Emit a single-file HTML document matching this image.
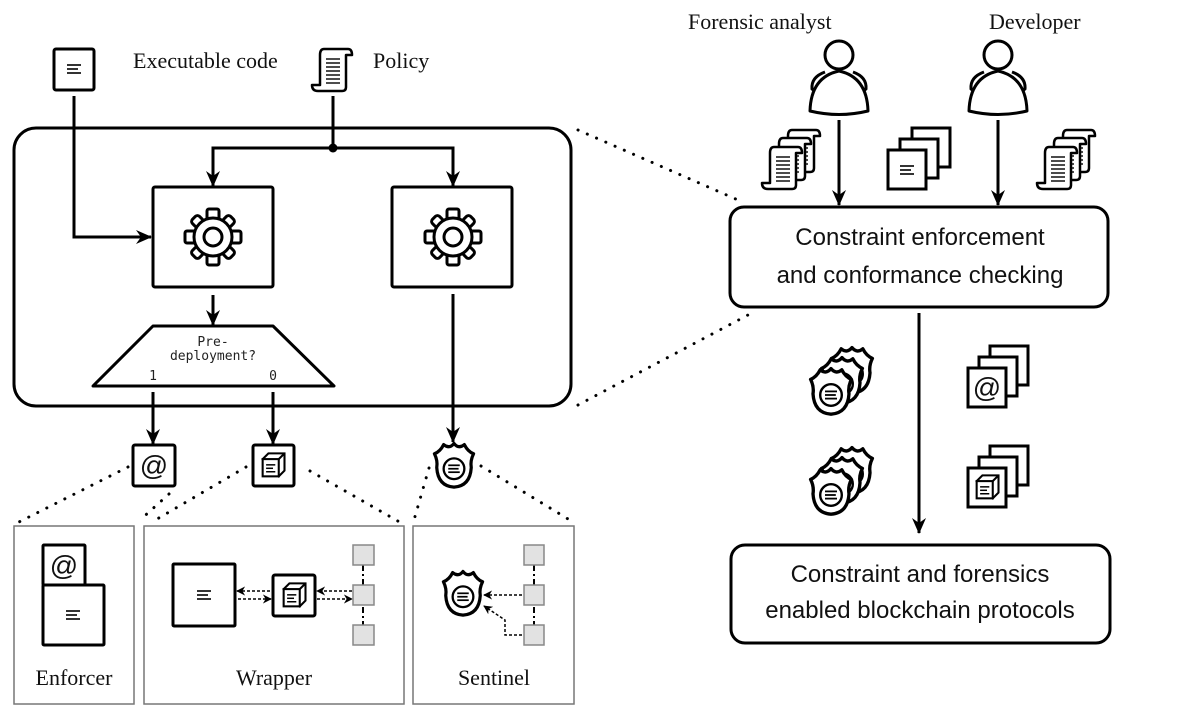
<!DOCTYPE html>
<html><head><meta charset="utf-8"><style>
html,body{margin:0;padding:0;background:#fff;}
svg{display:block}
.serif{font-family:"Liberation Serif",serif;fill:#111}
.sans{font-family:"Liberation Sans",sans-serif;fill:#111}
.mono{font-family:"DejaVu Sans Mono","Liberation Mono",monospace;fill:#222}
</style></head><body>
<svg width="1200" height="718" viewBox="0 0 1200 718" xmlns="http://www.w3.org/2000/svg">
<defs>
<marker id="ah" viewBox="0 0 16 14" refX="15" refY="7" markerWidth="16" markerHeight="14" markerUnits="userSpaceOnUse" orient="auto">
<path d="M0,0 L16,7 L0,14 L5,7 Z" fill="#000"/></marker>
<marker id="sa" viewBox="0 0 10 10" refX="9" refY="5" markerWidth="9" markerHeight="9" markerUnits="userSpaceOnUse" orient="auto">
<path d="M0,0 L10,5 L0,10 L3,5 Z" fill="#000"/></marker>
<g id="lines3">
<line x1="-7" y1="-4" x2="7" y2="-4" stroke="#000" stroke-width="1.6"/>
<line x1="-7" y1="0" x2="4" y2="0" stroke="#000" stroke-width="1.6"/>
<line x1="-7" y1="4" x2="7" y2="4" stroke="#000" stroke-width="1.6"/>
</g>
<g id="gear" fill="#fff" stroke="#000" stroke-width="3">
<g>
<rect x="-6" y="-28" width="12" height="12" rx="2"/>
<rect x="-6" y="16" width="12" height="12" rx="2"/>
<rect x="-28" y="-6" width="12" height="12" rx="2"/>
<rect x="16" y="-6" width="12" height="12" rx="2"/>
<rect x="-5" y="-27" width="10" height="10" rx="3" transform="rotate(45)"/>
<rect x="-5" y="17" width="10" height="10" rx="3" transform="rotate(45)"/>
<rect x="-5" y="-27" width="10" height="10" rx="3" transform="rotate(-45)"/>
<rect x="-5" y="17" width="10" height="10" rx="3" transform="rotate(-45)"/>
</g>
<circle r="19"/>
<circle r="9"/>
</g>
<g id="shield">
<path d="M-17,-8 Q-12,-10 -9,-16 Q-4,-12 0,-17 Q4,-12 9,-16 Q12,-10 17,-8 Q14,-2 15,4 Q14,20 0,21 Q-14,20 -15,4 Q-14,-2 -17,-8 Z" fill="#fff" stroke="#000" stroke-width="2.8" stroke-linejoin="round"/>
<circle cx="0" cy="5" r="9" fill="#fff" stroke="#000" stroke-width="2"/>
<line x1="-5" y1="2" x2="5" y2="2" stroke="#000" stroke-width="1.5"/>
<line x1="-5" y1="5" x2="4" y2="5" stroke="#000" stroke-width="1.5"/>
<line x1="-5" y1="8" x2="5" y2="8" stroke="#000" stroke-width="1.5"/>
</g>
<g id="cube">
<path d="M-9,-6 L-4,-11 L10,-11 L10,4 L5,9 Z" fill="#fff" stroke="#000" stroke-width="1.8"/>
<rect x="-9" y="-6" width="14" height="15" fill="#fff" stroke="#000" stroke-width="1.8"/>
<line x1="5" y1="-6" x2="10" y2="-11" stroke="#000" stroke-width="1.8"/>
<line x1="-6" y1="-1" x2="2" y2="-1" stroke="#000" stroke-width="1.3"/>
<line x1="-6" y1="2" x2="0" y2="2" stroke="#000" stroke-width="1.3"/>
<line x1="-6" y1="5" x2="2" y2="5" stroke="#000" stroke-width="1.3"/>
</g>
<g id="scroll">
<path d="M-10,-20 Q-14,-20 -14,-14 L-14,16 L-22,16 Q-22,22 -16,22 L8,22 Q12,22 12,18 L12,-14 L18,-14 Q18,-20 14,-20 Z" fill="#fff" stroke="#000" stroke-width="2.5" stroke-linejoin="round"/>
<g stroke="#000" stroke-width="1.4">
<line x1="-8" y1="-10" x2="6" y2="-10"/><line x1="-8" y1="-6" x2="6" y2="-6"/><line x1="-8" y1="-2" x2="6" y2="-2"/><line x1="-8" y1="2" x2="6" y2="2"/><line x1="-8" y1="6" x2="6" y2="6"/><line x1="-8" y1="10" x2="6" y2="10"/><line x1="-8" y1="14" x2="6" y2="14"/></g>
</g>
<g id="person" fill="#fff" stroke="#000" stroke-width="3" stroke-linejoin="round">
<path d="M-14,17 Q-28,22 -27,34 L-22,38"/>
<path d="M14,17 Q28,22 27,34 L22,38"/>
<path d="M-29,56 Q-28,22 0,16 Q28,22 29,56 Q0,63 -29,56 Z"/>
<circle cx="0" cy="0" r="14"/>
</g>
</defs>

<!-- Top-left inputs -->
<rect x="54" y="49" width="40" height="41" rx="2" fill="#fff" stroke="#000" stroke-width="3"/>
<use href="#lines3" x="74" y="69"/>
<text x="133" y="68" class="serif" font-size="22">Executable code</text>
<use href="#scroll" x="334" y="69"/>
<text x="373" y="68" class="serif" font-size="22">Policy</text>

<!-- big rounded rect -->
<rect x="14" y="128" width="557" height="278" rx="22" fill="none" stroke="#000" stroke-width="3"/>

<!-- connectors -->
<polyline points="74,96 74,237 151,237" fill="none" stroke="#000" stroke-width="3" marker-end="url(#ah)"/>
<line x1="333" y1="96" x2="333" y2="148" stroke="#000" stroke-width="3"/>
<circle cx="333" cy="148" r="4.5" fill="#000"/>
<polyline points="213,186 213,148 453,148 453,186" fill="none" stroke="#000" stroke-width="3"/>
<line x1="213" y1="160" x2="213" y2="186" stroke="#000" stroke-width="3" marker-end="url(#ah)"/>
<line x1="453" y1="160" x2="453" y2="186" stroke="#000" stroke-width="3" marker-end="url(#ah)"/>

<rect x="153" y="187" width="120" height="100" rx="2" fill="#fff" stroke="#000" stroke-width="3"/>
<rect x="392" y="187" width="120" height="100" rx="2" fill="#fff" stroke="#000" stroke-width="3"/>
<use href="#gear" x="213" y="237"/>
<use href="#gear" x="453" y="237"/>

<line x1="213" y1="295" x2="213" y2="325" stroke="#000" stroke-width="3" marker-end="url(#ah)"/>
<polygon points="153,326 273,326 334,386 93,386" fill="#fff" stroke="#000" stroke-width="3" stroke-linejoin="round"/>
<text x="213" y="346" class="mono" font-size="13" text-anchor="middle">Pre-</text>
<text x="213" y="360" class="mono" font-size="13" text-anchor="middle">deployment?</text>
<text x="153" y="380" class="mono" font-size="13" text-anchor="middle">1</text>
<text x="273" y="380" class="mono" font-size="13" text-anchor="middle">0</text>

<line x1="153" y1="392" x2="153" y2="444" stroke="#000" stroke-width="3" marker-end="url(#ah)"/>
<line x1="273" y1="392" x2="273" y2="444" stroke="#000" stroke-width="3" marker-end="url(#ah)"/>
<line x1="453" y1="294" x2="453" y2="442" stroke="#000" stroke-width="3" marker-end="url(#ah)"/>

<!-- small icons -->
<rect x="133" y="445" width="42" height="41" rx="2" fill="#fff" stroke="#000" stroke-width="3"/>
<text x="154" y="475" class="sans" font-size="28" text-anchor="middle">@</text>
<rect x="253" y="445" width="41" height="41" rx="2" fill="#fff" stroke="#000" stroke-width="3"/>
<use href="#cube" transform="translate(273,466) scale(1.15)"/>
<use href="#shield" transform="translate(454,463) scale(1.15)"/>

<!-- dotted zoom lines -->
<g stroke="#000" stroke-width="3" stroke-dasharray="0.1 10" stroke-linecap="round" fill="none">
<line x1="128" y1="467" x2="17" y2="523"/>
<line x1="169" y1="494" x2="139" y2="521"/>
<line x1="246" y1="467" x2="152" y2="522"/>
<line x1="310" y1="471" x2="403" y2="524"/>
<line x1="429" y1="468" x2="414" y2="520"/>
<line x1="481" y1="466" x2="573" y2="522"/>
<line x1="578" y1="130" x2="738" y2="200"/>
<line x1="578" y1="405" x2="748" y2="315"/>
</g>

<!-- bottom panels -->
<rect x="14" y="526" width="120" height="178" fill="#fff" stroke="#777" stroke-width="1.5"/>
<rect x="144" y="526" width="260" height="178" fill="#fff" stroke="#777" stroke-width="1.5"/>
<rect x="413" y="526" width="161" height="178" fill="#fff" stroke="#777" stroke-width="1.5"/>
<text x="74" y="685" class="serif" font-size="22" text-anchor="middle">Enforcer</text>
<text x="274" y="685" class="serif" font-size="22" text-anchor="middle">Wrapper</text>
<text x="494" y="685" class="serif" font-size="22" text-anchor="middle">Sentinel</text>

<!-- enforcer content -->
<rect x="43" y="545" width="42" height="40" rx="1" fill="#fff" stroke="#000" stroke-width="3"/>
<text x="64" y="575" class="sans" font-size="28" text-anchor="middle">@</text>
<rect x="43" y="585" width="61" height="60" rx="1" fill="#fff" stroke="#000" stroke-width="3"/>
<use href="#lines3" x="73" y="615"/>

<!-- wrapper content -->
<rect x="173" y="564" width="62" height="62" rx="1" fill="#fff" stroke="#000" stroke-width="3"/>
<use href="#lines3" x="204" y="595"/>
<rect x="273" y="575" width="42" height="41" rx="2" fill="#fff" stroke="#000" stroke-width="3"/>
<use href="#cube" transform="translate(294,596) scale(1.15)"/>
<g stroke="#000" stroke-width="1.5" stroke-dasharray="3 2" fill="none">
<line x1="270" y1="591" x2="237" y2="591" marker-end="url(#sa)"/>
<line x1="238" y1="599" x2="271" y2="599" marker-end="url(#sa)"/>
<line x1="352" y1="591" x2="317" y2="591" marker-end="url(#sa)"/>
<line x1="317" y1="599" x2="352" y2="599" marker-end="url(#sa)"/>
</g>
<line x1="363" y1="565" x2="363" y2="625" stroke="#000" stroke-width="2" stroke-dasharray="6 3 2 3"/>
<rect x="353" y="545" width="21" height="20" fill="#e2e2e2" stroke="#888" stroke-width="1.5"/>
<rect x="353" y="585" width="21" height="20" fill="#e2e2e2" stroke="#888" stroke-width="1.5"/>
<rect x="353" y="625" width="21" height="20" fill="#e2e2e2" stroke="#888" stroke-width="1.5"/>

<!-- sentinel content -->
<use href="#shield" transform="translate(463,591) scale(1.15)"/>
<line x1="534" y1="565" x2="534" y2="625" stroke="#000" stroke-width="2" stroke-dasharray="6 3 2 3"/>
<rect x="524" y="545" width="20" height="20" fill="#e2e2e2" stroke="#888" stroke-width="1.5"/>
<rect x="524" y="585" width="20" height="20" fill="#e2e2e2" stroke="#888" stroke-width="1.5"/>
<rect x="524" y="625" width="20" height="20" fill="#e2e2e2" stroke="#888" stroke-width="1.5"/>
<g stroke="#000" stroke-width="1.5" stroke-dasharray="3 2" fill="none">
<line x1="522" y1="595" x2="484" y2="595" marker-end="url(#sa)"/>
<polyline points="522,635 505,635 505,620 484,606" marker-end="url(#sa)"/>
</g>

<!-- right side -->
<text x="688" y="29" class="serif" font-size="22">Forensic analyst</text>
<text x="989" y="29" class="serif" font-size="22">Developer</text>
<use href="#person" x="839" y="55"/>
<use href="#person" x="998" y="55"/>
<line x1="839" y1="120" x2="839" y2="205" stroke="#000" stroke-width="3" marker-end="url(#ah)"/>
<line x1="998" y1="120" x2="998" y2="205" stroke="#000" stroke-width="3" marker-end="url(#ah)"/>

<use href="#scroll" x="802" y="150"/>
<use href="#scroll" x="793" y="158"/>
<use href="#scroll" x="784" y="167"/>
<use href="#scroll" x="1077" y="150"/>
<use href="#scroll" x="1068" y="158"/>
<use href="#scroll" x="1059" y="167"/>

<g fill="#fff" stroke="#000" stroke-width="3">
<rect x="912" y="128" width="38" height="39"/>
<rect x="900" y="139" width="38" height="39"/>
<rect x="888" y="150" width="38" height="39"/>
</g>
<use href="#lines3" x="907" y="170"/>

<rect x="730" y="207" width="378" height="100" rx="14" fill="#fff" stroke="#000" stroke-width="3"/>
<text x="920" y="245" class="sans" font-size="24" text-anchor="middle">Constraint enforcement</text>
<text x="920" y="283" class="sans" font-size="24" text-anchor="middle">and conformance checking</text>

<line x1="919" y1="313" x2="919" y2="533" stroke="#000" stroke-width="3" marker-end="url(#ah)"/>

<use href="#shield" transform="translate(852,368) scale(1.2)"/>
<use href="#shield" transform="translate(842,378) scale(1.2)"/>
<use href="#shield" transform="translate(831,389) scale(1.2)"/>
<use href="#shield" transform="translate(852,468) scale(1.2)"/>
<use href="#shield" transform="translate(842,478) scale(1.2)"/>
<use href="#shield" transform="translate(831,489) scale(1.2)"/>

<g fill="#fff" stroke="#000" stroke-width="3">
<rect x="990" y="346" width="38" height="39"/>
<rect x="979" y="357" width="38" height="39"/>
<rect x="968" y="368" width="38" height="39"/>
<rect x="990" y="446" width="38" height="39"/>
<rect x="979" y="457" width="38" height="39"/>
<rect x="968" y="468" width="38" height="39"/>
</g>
<text x="987" y="397" class="sans" font-size="28" text-anchor="middle">@</text>
<use href="#cube" transform="translate(987,488) scale(1.15)"/>

<rect x="731" y="545" width="379" height="98" rx="14" fill="#fff" stroke="#000" stroke-width="3"/>
<text x="920" y="582" class="sans" font-size="24" text-anchor="middle">Constraint and forensics</text>
<text x="920" y="618" class="sans" font-size="24" text-anchor="middle">enabled blockchain protocols</text>
</svg>
</body></html>
